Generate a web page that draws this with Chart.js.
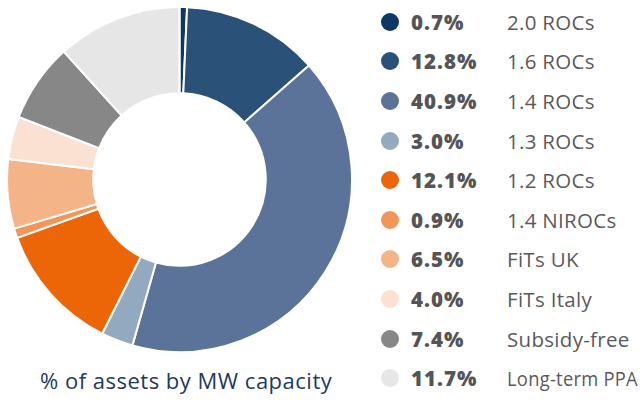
<!DOCTYPE html>
<html>
<head>
<meta charset="utf-8">
<script src="https://cdn.jsdelivr.net/npm/chart.js@4"></script>
<style>
  html, body { margin: 0; padding: 0; background: #fff; }
  body { width: 643px; height: 405px; position: relative; overflow: hidden; font-family: "Open Sans", sans-serif; }
  #chartBox { position: absolute; left: 6px; top: 6px; width: 347px; height: 347px; }
  #caption { position: absolute; left: 40px; top: 365px; font-size: 22px; letter-spacing: 0.5px; color: #1f3a5d; white-space: nowrap; }
  #legend { position: absolute; left: 380px; top: 2px; white-space: nowrap; }
  .row { height: 39.6px; display: flex; align-items: center; }
  .dot { width: 18px; height: 18px; border-radius: 50%; margin-left: 1px; margin-right: 12px; flex: none; }
  .pct { width: 96px; font-weight: 800; font-size: 20.5px; letter-spacing: 1px; color: #555; flex: none; }
  .lbl { display: inline-block; font-size: 20.5px; color: #5a5a5a; letter-spacing: 0.3px; transform-origin: left center; }
</style>
</head>
<body>
<div id="chartBox"><canvas id="chart"></canvas></div>
<div id="legend"></div>
<div id="caption">% of assets by MW capacity</div>
<script>
const categories = ['2.0 ROCs', '1.6 ROCs', '1.4 ROCs', '1.3 ROCs', '1.2 ROCs', '1.4 NIROCs', 'FiTs UK', 'FiTs Italy', 'Subsidy-free', 'Long-term PPA'];
const shares = [0.7, 12.8, 40.9, 3.0, 12.1, 0.9, 6.5, 4.0, 7.4, 11.7];
const colors = ['#0c3865', '#2a5279', '#5b7398', '#93a9c0', '#ec6608', '#f29557', '#f5b487', '#fbe1d1', '#878787', '#e6e6e6'];

const legend = document.getElementById('legend');
categories.forEach((name, i) => {
  const row = document.createElement('div');
  row.className = 'row';
  row.innerHTML = '<span class="dot" style="background:' + colors[i] + '"></span>' +
    '<span class="pct">' + shares[i].toFixed(1) + '%</span>' +
    '<span class="lbl">' + name + '</span>';
  legend.appendChild(row);
});

// squeeze any label that would run off the right edge
document.querySelectorAll('.lbl').forEach(el => {
  const r = el.getBoundingClientRect();
  if (r.right > 638) {
    el.style.transform = 'scaleX(' + ((638 - r.left) / r.width).toFixed(3) + ')';
  }
});

const ctx = document.getElementById('chart').getContext('2d');
new Chart(ctx, {
  type: 'doughnut',
  data: {
    labels: categories,
    datasets: [{
      data: shares,
      backgroundColor: colors,
      borderColor: '#fff',
      borderWidth: 2
    }]
  },
  options: {
    responsive: true,
    maintainAspectRatio: false,
    animation: false,
    cutout: '50%',
    plugins: {
      legend: { display: false },
      tooltip: { enabled: false }
    }
  }
});
</script>
</body>
</html>
